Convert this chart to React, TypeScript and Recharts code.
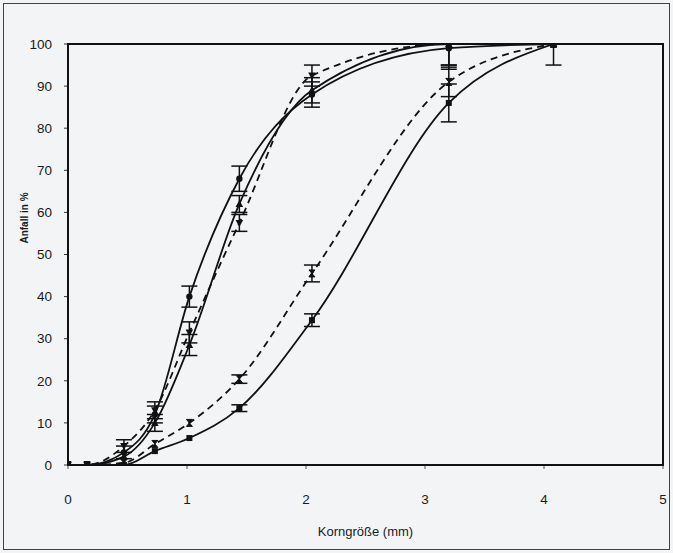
import { LineChart, Line, XAxis, YAxis, ErrorBar } from "recharts";

// sieve sizes (mm)
const korn = [0, 0.16, 0.47, 0.73, 1.02, 1.44, 2.05, 3.2, 4.08];

// cumulative passing in %
const s1 = [0, 0, 3, 12, 40, 68, 88, 99, 100];
const s2 = [0, 0, 2, 10, 28.5, 62, 89, 100, 100];
const s3 = [0, 0, 4.5, 13, 31.5, 57.5, 92.5, 100, 100];
const s4 = [0, 0, 0.5, 5, 10, 20.4, 45.5, 91, 100];
const s5 = [0, 0, 0, 3.3, 6.4, 13.5, 34.4, 86, 100];

// error bars (undefined = none drawn), [lower, upper] where clipped at 100
const e1 = [undefined, undefined, 1.5, 2, 2.5, 3, 3, [4, 1], [5, 0]];
const e2 = [undefined, undefined, undefined, 2, 2.5, 2, 3, [5, 0], undefined];
const e3 = [undefined, undefined, 1.5, 2, 2.5, 2, 2.5, [6, 0], undefined];
const e4 = [undefined, undefined, undefined, undefined, undefined, 1, 2, 3.5, undefined];
const e5 = [undefined, undefined, undefined, undefined, undefined, 0.8, 1.5, 4.5, undefined];

const xTicks = [0, 1, 2, 3, 4, 5];
const yTicks = [0, 10, 20, 30, 40, 50, 60, 70, 80, 90, 100];

const rows = korn.map((x, i) => ({
  x,
  s1: s1[i],
  s2: s2[i],
  s3: s3[i],
  s4: s4[i],
  s5: s5[i],
  e1: e1[i],
  e2: e2[i],
  e3: e3[i],
  e4: e4[i],
  e5: e5[i],
}));

const ink = "#111";

const marker = (kind: string) => (p: any) => {
  const { cx, cy, index } = p;
  if (cx == null || cy == null) return <g key={index} />;
  if (kind === "circle") return <circle key={index} cx={cx} cy={cy} r={3.2} fill={ink} />;
  if (kind === "tri")
    return <path key={index} d={`M${cx},${cy - 4} L${cx + 3.8},${cy + 3} L${cx - 3.8},${cy + 3} Z`} fill={ink} />;
  if (kind === "itri")
    return <path key={index} d={`M${cx},${cy + 4} L${cx + 3.8},${cy - 3} L${cx - 3.8},${cy - 3} Z`} fill={ink} />;
  if (kind === "hour")
    return (
      <path
        key={index}
        d={`M${cx - 3},${cy - 3.5} L${cx + 3},${cy - 3.5} L${cx - 3},${cy + 3.5} L${cx + 3},${cy + 3.5} Z`}
        fill={ink}
        stroke={ink}
        strokeWidth={1}
      />
    );
  return <rect key={index} x={cx - 3} y={cy - 3} width={6} height={6} fill={ink} />;
};

const tickStyle = { fontFamily: "Liberation Sans, Arial, sans-serif", fontSize: 13.5, fill: "#1a1a1a" };

export default function App() {
  return (
    <div style={{ position: "absolute", left: 0, top: 0, width: 673, height: 553, background: "#f3f4f6" }}>
      <LineChart width={673} height={553} data={rows} margin={{ top: 44, right: 10, bottom: 17, left: 0 }}>
        <XAxis
          dataKey="x"
          type="number"
          domain={[0, 5]}
          ticks={xTicks}
          allowDataOverflow
          axisLine={false}
          tickSize={4}
          tickMargin={25}
          height={71}
          tick={tickStyle}
          tickLine={{ stroke: "#555" }}
          label={{ value: "Korngröße (mm)", position: "insideBottom", offset: 0, style: { ...tickStyle, fontSize: 13 } }}
        />
        <YAxis
          type="number"
          domain={[0, 100]}
          ticks={yTicks}
          allowDataOverflow
          width={68}
          axisLine={false}
          tickSize={4}
          tickMargin={12}
          tick={tickStyle}
          tickLine={{ stroke: "#333" }}
        />
        <Line type="monotone" dataKey="s1" stroke={ink} strokeWidth={1.8} dot={marker("circle")} isAnimationActive={false}>
          <ErrorBar dataKey="e1" width={8} stroke={ink} strokeWidth={1.5} direction="y" />
        </Line>
        <Line type="monotone" dataKey="s2" stroke={ink} strokeWidth={1.8} dot={marker("tri")} isAnimationActive={false}>
          <ErrorBar dataKey="e2" width={8} stroke={ink} strokeWidth={1.5} direction="y" />
        </Line>
        <Line
          type="monotone"
          dataKey="s3"
          stroke={ink}
          strokeWidth={1.8}
          strokeDasharray="7 5"
          dot={marker("itri")}
          isAnimationActive={false}
        >
          <ErrorBar dataKey="e3" width={8} stroke={ink} strokeWidth={1.5} direction="y" />
        </Line>
        <Line
          type="monotone"
          dataKey="s4"
          stroke={ink}
          strokeWidth={1.8}
          strokeDasharray="7 5"
          dot={marker("hour")}
          isAnimationActive={false}
        >
          <ErrorBar dataKey="e4" width={8} stroke={ink} strokeWidth={1.5} direction="y" />
        </Line>
        <Line type="monotone" dataKey="s5" stroke={ink} strokeWidth={1.8} dot={marker("square")} isAnimationActive={false}>
          <ErrorBar dataKey="e5" width={8} stroke={ink} strokeWidth={1.5} direction="y" />
        </Line>
      </LineChart>
      <div
        style={{
          position: "absolute",
          left: 67,
          top: 43,
          width: 597,
          height: 423,
          border: "2px solid #111",
          boxSizing: "border-box",
          pointerEvents: "none",
        }}
      />
      <div
        style={{
          position: "absolute",
          left: 3,
          top: 3,
          width: 667,
          height: 547,
          border: "1.5px solid #444",
          boxSizing: "border-box",
          pointerEvents: "none",
        }}
      />
      <div
        style={{
          position: "absolute",
          left: 24,
          top: 218,
          transform: "translate(-50%, -50%) rotate(-90deg)",
          fontFamily: "Liberation Sans, Arial, sans-serif",
          fontSize: 10,
          fontWeight: "bold",
          color: "#1a1a1a",
          whiteSpace: "nowrap",
        }}
      >
        Anfall in %
      </div>
    </div>
  );
}
